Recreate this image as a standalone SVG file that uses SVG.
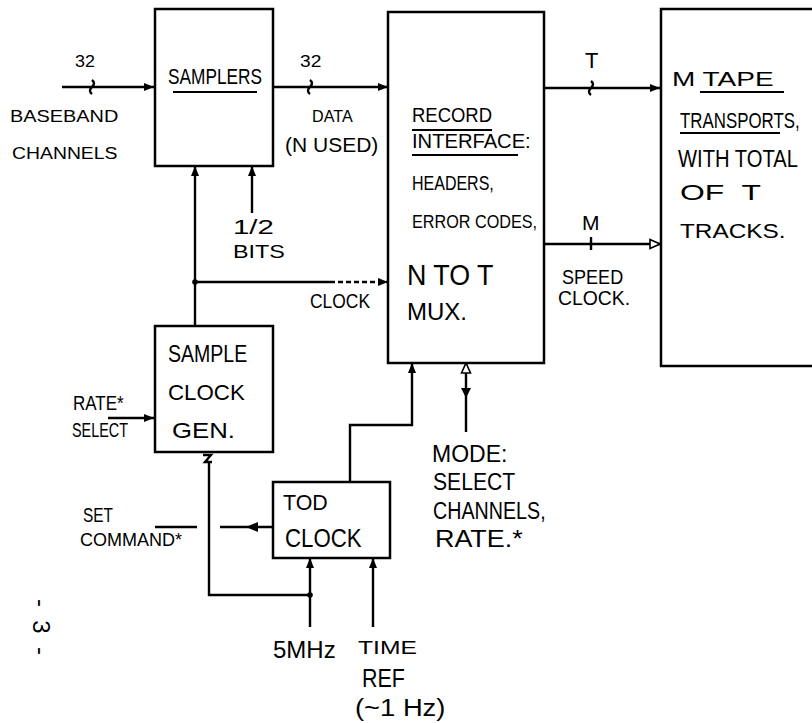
<svg xmlns="http://www.w3.org/2000/svg" width="812" height="723" viewBox="0 0 812 723">
<defs>
<marker id="fa" viewBox="0 0 10 10" refX="10" refY="5" markerWidth="10" markerHeight="10" markerUnits="userSpaceOnUse" orient="auto">
<path d="M0,1 L10,5 L0,9 Z" fill="#000"/>
</marker>
<marker id="oa" viewBox="0 0 12 12" refX="11" refY="6" markerWidth="12" markerHeight="12" markerUnits="userSpaceOnUse" orient="auto">
<path d="M1,1.5 L11,6 L1,10.5 Z" fill="#fff" stroke="#000" stroke-width="1.6"/>
</marker>
</defs>
<style>
.box{fill:none;stroke:#000;stroke-width:2.5}
.ln{fill:none;stroke:#000;stroke-width:2.4}
.ul{stroke:#000;stroke-width:2}
text{font-family:"Liberation Sans","DejaVu Sans",sans-serif;fill:#000}
</style>
<rect width="812" height="723" fill="#fff"/>

<g id="samplers">
<rect class="box" x="155" y="9" width="118" height="157"/>
<text transform="translate(168,84) scale(0.785,1)" font-size="22">SAMPLERS</text>
<line class="ul" x1="173" y1="92" x2="257" y2="92"/>
</g>

<g id="record-interface">
<rect class="box" x="388" y="12" width="156" height="351"/>
<text transform="translate(412,122) scale(0.88,1)" font-size="21">RECORD</text>
<line class="ul" x1="412" y1="130" x2="492" y2="130"/>
<text transform="translate(412,148) scale(0.96,1)" font-size="21">INTERFACE:</text>
<line class="ul" x1="412" y1="155" x2="518" y2="155"/>
<text transform="translate(412,190) scale(0.8,1)" font-size="20">HEADERS,</text>
<text transform="translate(412,228) scale(0.9,1)" font-size="18">ERROR CODES,</text>
<text transform="translate(407,285) scale(0.895,1)" font-size="30">N TO T</text>
<text x="407" y="320" font-size="24">MUX.</text>
</g>

<g id="tape-transports">
<path class="box" d="M812,9 H661 V366 H812"/>
<text transform="translate(672,86) scale(1.4,1)" font-size="20">M TAPE</text>
<line class="ul" x1="700" y1="92" x2="784" y2="92"/>
<text transform="translate(680,128) scale(0.767,1)" font-size="22">TRANSPORTS,</text>
<line class="ul" x1="680" y1="133" x2="780" y2="133"/>
<text transform="translate(678,167) scale(0.877,1)" font-size="23">WITH TOTAL</text>
<text transform="translate(680,200) scale(1.45,1)" font-size="22" xml:space="preserve">OF  T</text>
<text transform="translate(680,238) scale(1.16,1)" font-size="21">TRACKS.</text>
</g>

<g id="sample-clock-gen">
<rect class="box" x="155" y="326" width="118" height="126"/>
<text transform="translate(168,362) scale(0.85,1)" font-size="23">SAMPLE</text>
<text transform="translate(168,400) scale(0.97,1)" font-size="23">CLOCK</text>
<text transform="translate(172,438) scale(1.17,1)" font-size="22">GEN.</text>
</g>

<g id="tod-clock">
<rect class="box" x="273" y="482" width="117" height="76"/>
<text transform="translate(283,510) scale(0.93,1)" font-size="23">TOD</text>
<text transform="translate(285,547) scale(0.89,1)" font-size="25">CLOCK</text>
</g>

<g id="connectors">
<path class="ln" d="M62,87 H154" marker-end="url(#fa)"/>
<path class="ln" d="M273,87 H388" marker-end="url(#fa)"/>
<path class="ln" d="M544,88 H660" marker-end="url(#fa)"/>
<path class="ln" d="M544,244 H660" marker-end="url(#oa)"/>
<path class="ln" d="M195,326 V166" marker-end="url(#fa)"/>
<path class="ln" d="M252,213 V166" marker-end="url(#fa)"/>
<path class="ln" d="M195,282 H330"/>
<path class="ln" d="M330,282 H388" stroke-dasharray="5,3" marker-end="url(#fa)"/>
<circle cx="195" cy="282" r="2.8"/>
<path class="ln" d="M108,418 H154" marker-end="url(#fa)"/>
<path class="ln" d="M209,462 V595 H310"/>
<path class="ln" d="M203,455 H211 L205,462 H212"/>
<path class="ln" d="M310,627 V558" marker-end="url(#fa)"/>
<circle cx="310" cy="595" r="2.8"/>
<path class="ln" d="M373,627 V558" marker-end="url(#fa)"/>
<path class="ln" d="M350,482 V425 H412 V363" marker-end="url(#fa)"/>
<path class="ln" d="M466,432 V363" marker-end="url(#oa)"/>
<path d="M461,388 L471,388 L466,398 Z" fill="#000"/>
<path class="ln" d="M155,527 H197"/>
<path class="ln" d="M220,527 H272"/>
<path d="M258,522 L246,527 L258,532 Z" fill="#000"/>
<path class="ln" d="M92,80 q4,3 0,7 q-4,4 0,7"/>
<path class="ln" d="M310,80 q4,3 0,7 q-4,4 0,7"/>
<path class="ln" d="M591,81 q4,3 0,7 q-4,4 0,7"/>
<path class="ln" d="M591,237 V250"/>
</g>

<g id="labels">
<text transform="translate(75,67) scale(1.12,1)" font-size="16">32</text>
<text transform="translate(10,122) scale(1.17,1)" font-size="17">BASEBAND</text>
<text transform="translate(12,159) scale(1.14,1)" font-size="17">CHANNELS</text>
<text transform="translate(300,67) scale(1.2,1)" font-size="16">32</text>
<text transform="translate(312,122) scale(0.95,1)" font-size="17">DATA</text>
<text x="285" y="152" font-size="21">(N USED)</text>
<text x="585" y="68" font-size="22">T</text>
<text x="582" y="230" font-size="21">M</text>
<text transform="translate(562,284) scale(0.86,1)" font-size="21">SPEED</text>
<text transform="translate(558,305) scale(0.97,1)" font-size="20">CLOCK.</text>
<text transform="translate(233,234) scale(1.4,1)" font-size="21">1/2</text>
<text transform="translate(233,258) scale(1.3,1)" font-size="18">BITS</text>
<text transform="translate(310,308) scale(0.83,1)" font-size="21">CLOCK</text>
<text transform="translate(73,410) scale(0.85,1)" font-size="20">RATE*</text>
<text transform="translate(72,437) scale(0.72,1)" font-size="20">SELECT</text>
<text transform="translate(83,522) scale(0.77,1)" font-size="20">SET</text>
<text x="80" y="546" font-size="18">COMMAND*</text>
<text x="432" y="462" font-size="23">MODE:</text>
<text transform="translate(433,490) scale(0.92,1)" font-size="23">SELECT</text>
<text transform="translate(433,519) scale(0.82,1)" font-size="24">CHANNELS,</text>
<text transform="translate(435,547) scale(1.17,1)" font-size="23">RATE.*</text>
<text x="273" y="658" font-size="24">5MHz</text>
<text transform="translate(358,654) scale(1.37,1)" font-size="18">TIME</text>
<text transform="translate(362,687) scale(0.86,1)" font-size="25">REF</text>
<text transform="translate(355,716) scale(1.14,1)" font-size="24">(~1 Hz)</text>
<text transform="translate(33,627) rotate(90)" text-anchor="middle" font-size="24" xml:space="preserve">-  3  -</text>
</g>
</svg>
